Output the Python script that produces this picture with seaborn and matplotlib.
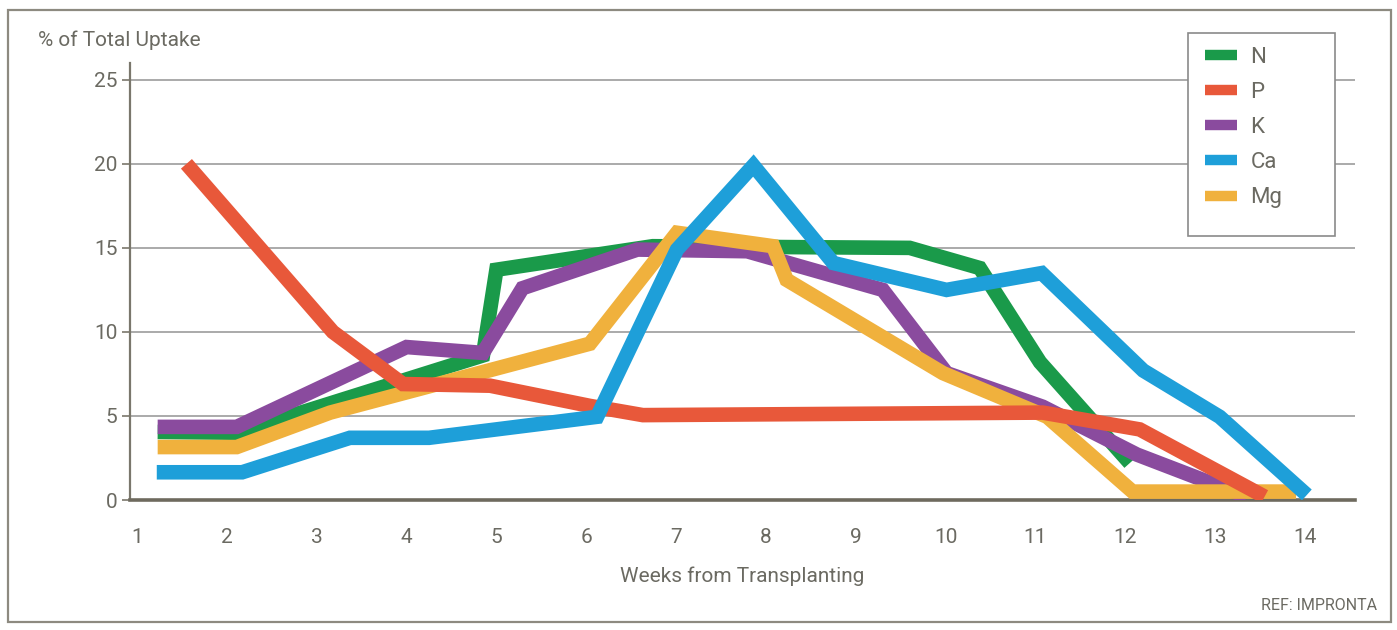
import matplotlib
matplotlib.use("Agg")
import matplotlib.pyplot as plt
from matplotlib.lines import Line2D
from matplotlib.patches import Rectangle
import pandas as pd
import seaborn as sns

# Weekly share of total nutrient uptake (%), by element
n_weeks = [1.23, 2.11, 4.85, 5.0, 6.74, 9.6, 10.38, 11.05, 12.05]
n_vals = [4.05, 4.0, 8.6, 13.7, 15.1, 15.0, 13.8, 8.2, 2.2]

p_weeks = [1.55, 3.18, 3.96, 4.93, 6.04, 6.63, 11.08, 12.16, 13.55]
p_vals = [20.0, 10.0, 6.9, 6.8, 5.6, 5.05, 5.2, 4.2, 0.2]

k_weeks = [1.23, 2.11, 4.0, 4.85, 5.29, 6.57, 7.79, 9.3, 10.01, 11.08, 12.13, 13.35]
k_vals = [4.35, 4.35, 9.1, 8.75, 12.6, 14.9, 14.8, 12.5, 7.55, 5.55, 2.7, 0.2]

ca_weeks = [1.22, 2.17, 3.37, 4.25, 6.12, 7.01, 7.86, 8.75, 10.01, 11.07, 12.2, 13.05, 14.02]
ca_vals = [1.65, 1.65, 3.7, 3.7, 4.95, 14.9, 19.9, 14.1, 12.5, 13.5, 7.7, 4.95, 0.3]

mg_weeks = [1.23, 2.11, 3.15, 6.04, 7.01, 8.08, 8.23, 9.97, 11.13, 12.08, 13.9]
mg_vals = [3.15, 3.15, 5.2, 9.3, 15.9, 15.1, 13.1, 7.55, 4.95, 0.5, 0.5]

nutrients = ["N", "P", "K", "Ca", "Mg"]
week_ticks = list(range(1, 15))
y_ticks = [0, 5, 10, 15, 20, 25]

colors = {"N": "#1a9a4a", "P": "#e8583a", "K": "#8a4b9e", "Ca": "#1e9fd9", "Mg": "#f0b13d"}
series = {
    "N": (n_weeks, n_vals),
    "P": (p_weeks, p_vals),
    "K": (k_weeks, k_vals),
    "Ca": (ca_weeks, ca_vals),
    "Mg": (mg_weeks, mg_vals),
}

sns.set_theme(style="white")
plt.rcParams["font.family"] = ["Roboto", "DejaVu Sans"]
text_color = "#6b6a62"

W, H = 1397, 630
fig = plt.figure(figsize=(W / 100, H / 100), dpi=100)
ax = fig.add_axes([130 / W, 130 / H, (1355 - 130) / W, (500 - 63) / H])

# Horizontal reference lines
for y in y_ticks[1:]:
    ax.axhline(y, color="#9c9c9c", lw=1.2, zorder=0)

# Draw order keeps Ca on top
for name in ["N", "K", "Mg", "P", "Ca"]:
    wk, vals = series[name]
    df = pd.DataFrame({"week": wk, "uptake": vals, "nutrient": name})
    sns.lineplot(data=df, x="week", y="uptake", color=colors[name], lw=10.5,
                 sort=False, estimator=None, ax=ax, legend=False,
                 solid_joinstyle="miter", solid_capstyle="butt", zorder=3)

ax.set_xlim(0.922, 14.556)
ax.set_ylim(0, 26)
ax.set_xticks(week_ticks)
ax.set_xticklabels([str(w) for w in week_ticks])
ax.set_yticks(y_ticks)
ax.set_yticklabels([str(v) for v in y_ticks])
ax.tick_params(axis="x", length=0, pad=20, labelsize=15, labelcolor=text_color)
ax.tick_params(axis="y", length=6, width=1.2, color="#7a776c", direction="out",
               pad=3, labelsize=15, labelcolor=text_color, left=True)
ax.set_xlabel("Weeks from Transplanting", fontsize=15, color=text_color, labelpad=14)
ax.set_ylabel("")

for side in ["top", "right"]:
    ax.spines[side].set_visible(False)
ax.spines["left"].set_color("#7a776c")
ax.spines["left"].set_linewidth(1.6)
ax.spines["bottom"].set_color("#6e6a5e")
ax.spines["bottom"].set_linewidth(2.6)

fig.text(38 / W, 1 - 40 / H, "% of Total Uptake", fontsize=15, color=text_color,
         ha="left", va="center")
fig.text(1377 / W, 1 - 606 / H, "REF: IMPRONTA", fontsize=11.5, color=text_color,
         ha="right", va="center")

# Legend box
box = Rectangle((1188 / W, 1 - 236 / H), (1335 - 1188) / W, (236 - 33) / H,
                transform=fig.transFigure, facecolor="white", edgecolor="#8a8a8a",
                lw=1.2, zorder=4, clip_on=False)
ax.add_patch(box)

handles = [Line2D([0], [0], color=colors[n], lw=7.5, solid_capstyle="butt") for n in nutrients]
leg = ax.legend(handles, nutrients, loc="center left",
                bbox_to_anchor=(1205 / W, 1 - 127.5 / H), bbox_transform=fig.transFigure,
                fontsize=16, handlelength=1.44, handletextpad=0.6, labelspacing=0.64,
                borderpad=0, frameon=False, borderaxespad=0)
leg.set_zorder(5)
for t in leg.get_texts():
    t.set_color(text_color)

# Outer frame around the whole chart
fig.patches.append(Rectangle((8 / W, 8 / H), 1383 / W, 612 / H,
                             transform=fig.transFigure, fill=False,
                             edgecolor="#8d8a80", lw=1.6))

fig.savefig("out.png", dpi=100, facecolor="white")
